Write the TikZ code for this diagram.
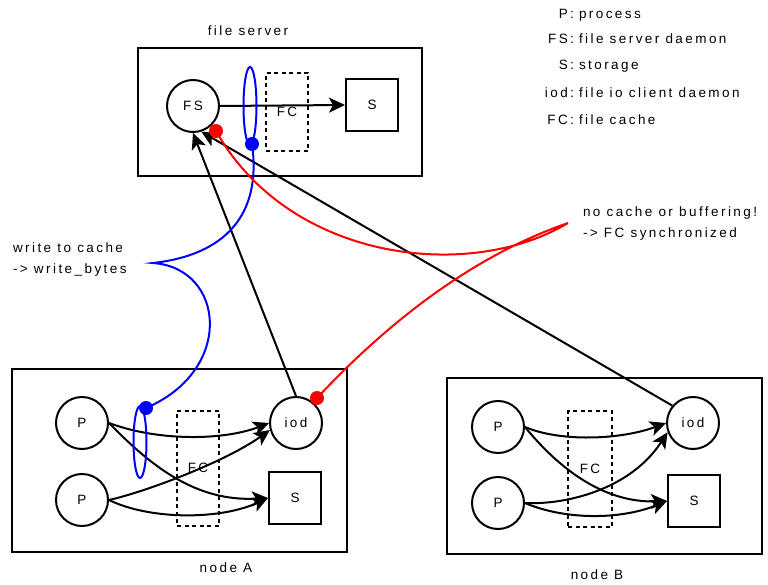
\documentclass[tikz,border=0pt]{standalone}
\usepackage{fontspec}
\setmainfont[LetterSpace=18]{Liberation Sans}
\usetikzlibrary{arrows.meta,shapes.geometric}
\begin{document}
\begin{tikzpicture}[x=1pt,y=-1pt,line width=2pt,
  every node/.style={font=\fontsize{13.5pt}{15pt}\selectfont,inner sep=0pt},
  hostbox/.style={draw,rectangle},
  proc/.style={draw,circle,minimum size=52pt},
  store/.style={draw,rectangle,minimum size=52pt},
  cachebox/.style={draw,rectangle,dash pattern=on 4pt off 3.5pt},
  flow/.style={-{Stealth[length=16pt,width=15pt,inset=4pt]}},
  cacheloop/.style={draw=blue,ellipse,minimum width=13pt},
  bluedot/.style={circle,fill=blue,minimum size=14pt},
  reddot/.style={circle,fill=red,minimum size=14pt},
  note/.style={anchor=base west},
  caption/.style={anchor=base}]
\useasboundingbox (0,0) rectangle (768,585);

% ---------- legend ----------
\node[anchor=base east] (kP)   at (575,19)  {P:};
\node[note]             (dP)   at (578,19)  {process};
\node[anchor=base east] (kFS)  at (575,44)  {FS:};
\node[note]             (dFS)  at (578,44)  {file server daemon};
\node[anchor=base east] (kS)   at (575,70)  {S:};
\node[note]             (dS)   at (578,70)  {storage};
\node[anchor=base east] (kiod) at (575,98)  {iod:};
\node[note]             (diod) at (578,98)  {file io client daemon};
\node[anchor=base east] (kFC)  at (575,125) {FC:};
\node[note]             (dFC)  at (578,125) {file cache};

% ---------- file server ----------
\node[caption] (srvcap) at (248,36) {file server};
\node[hostbox,minimum width=284pt,minimum height=128pt] (srv) at (280,112) {};
\node[proc]  (FS) at (193,106) {FS};
\node[cachebox,minimum width=42pt,minimum height=78pt] (fcS) at (287,112) {\raisebox{-4pt}{FC}};
\node[store] (SS) at (372,105) {S};
\draw[flow] (FS.east) -- (SS.west);
\node[cacheloop,minimum height=78pt] (loopS) at (250,106) {};

% ---------- node A ----------
\node[hostbox,minimum width=335pt,minimum height=183pt] (hostA) at (179.5,460.5) {};
\node[caption] (capA) at (226,572) {node A};
\node[proc]  (P1A)  at (82,423)  {P};
\node[proc]  (P2A)  at (82,500)  {P};
\node[proc]  (iodA) at (296,423) {iod};
\node[store] (SA)   at (295,498) {S};
\node[cachebox,minimum width=42pt,minimum height=115pt] (fcA) at (198,468) {\raisebox{-2pt}{FC}};
\draw[flow] (P1A.east) .. controls (160,442) and (225,440) .. (iodA.west);
\draw[flow] (P1A.east) .. controls (150,465) and (195,502) .. (SA.west);
\draw[flow] (P2A.east) .. controls (145,492) and (225,462) .. (iodA.195);
\draw[flow] (P2A.east) .. controls (150,520) and (220,520) .. (SA.west);
\node[cacheloop,minimum height=72pt] (loopA) at (140,442) {};

% ---------- node B ----------
\node[hostbox,minimum width=315pt,minimum height=176pt] (hostB) at (604.5,466) {};
\node[caption] (capB) at (597,579) {node B};
\node[proc]  (P1B)  at (498,427) {P};
\node[proc]  (P2B)  at (498,503) {P};
\node[proc]  (iodB) at (693,423) {iod};
\node[store] (SB)   at (694,501) {S};
\node[cachebox,minimum width=44pt,minimum height=116pt] (fcB) at (590,469) {FC};
\draw[flow] (P1B.east) .. controls (560,442) and (620,440) .. (iodB.west);
\draw[flow] (P1B.east) .. controls (560,470) and (605,503) .. (SB.west);
\draw[flow] (P2B.east) .. controls (565,505) and (630,490) .. (iodB.200);
\draw[flow] (P2B.east) .. controls (565,520) and (620,520) .. (SB.west);

% ---------- client daemons to file server ----------
\draw[flow] (iodA.north) -- (FS.south);
\draw[flow] (iodB.140) -- (FS.-72);

% ---------- annotations ----------
\node[note] (wnote1) at (12,253) {write to cache};
\node[note] (wnote2) at (12,273) {-> write\_bytes};
\node[note] (rnote1) at (582,217) {no cache or buffering!};
\node[note] (rnote2) at (582,238) {-> FC synchronized};

\coordinate (wcusp) at (153,263);
\coordinate (rcusp) at (568,223);
\node[bluedot] (bdS) at (252,144) {};
\node[bluedot] (bdA) at (146,408) {};
\node[reddot]  (rdS) at (216,131) {};
\node[reddot]  (rdA) at (317,398) {};

\draw[blue] (bdS.center) .. controls (262,215) and (225,255) .. (wcusp)
            .. controls (225,268) and (235,370) .. (bdA.center);
\draw[red]  (rdS.center) .. controls (290,262) and (470,282) .. (rcusp)
            .. controls (475,255) and (390,320) .. (rdA.center);
\end{tikzpicture}
\end{document}
